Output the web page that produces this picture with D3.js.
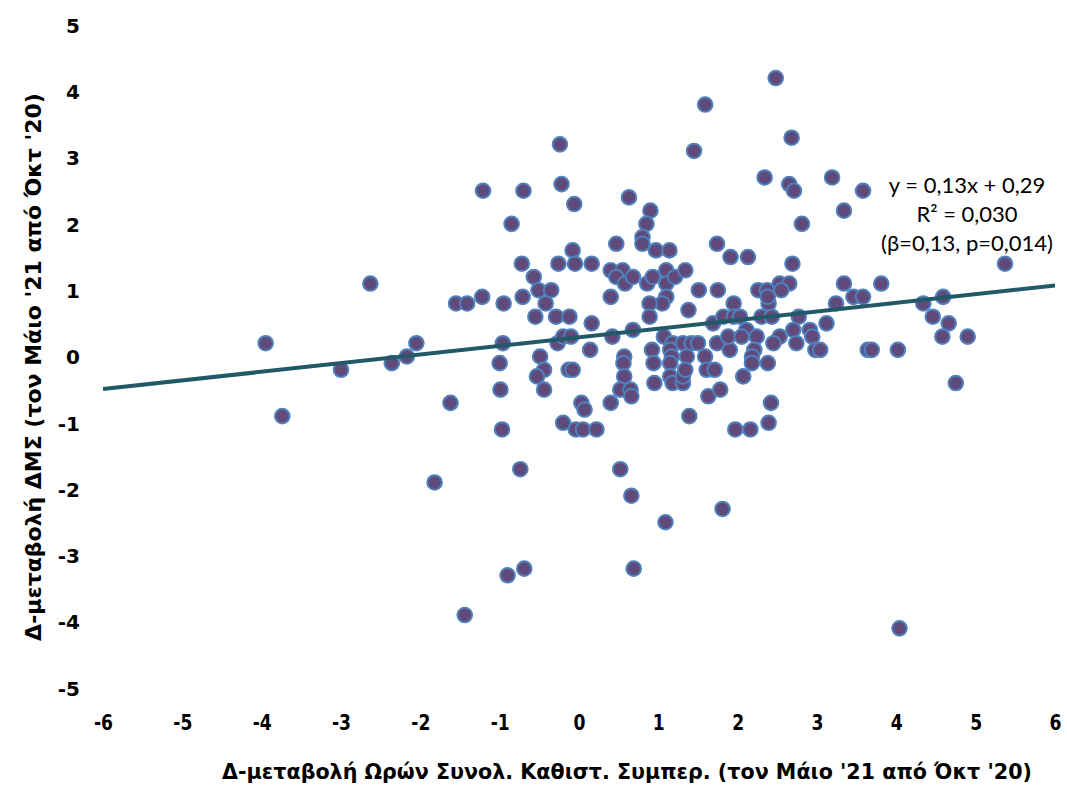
<!DOCTYPE html>
<html>
<head>
<meta charset="utf-8">
<script src="https://cdn.jsdelivr.net/npm/d3@7"></script>
<style>
  body { margin: 0; background: #fff; }
  svg { display: block; }
  .ytick text { font-family: "DejaVu Sans", Verdana, sans-serif; font-weight: bold; font-size: 20px; fill: #000; }
  .xtick text { font-family: "DejaVu Sans", sans-serif; font-weight: bold; font-size: 22px; fill: #000; }
  .title { font-family: "DejaVu Sans", sans-serif; font-weight: bold; font-size: 22px; fill: #000; }
  .note { font-family: Lato, "Open Sans", sans-serif; font-size: 22px; fill: #000; }
</style>
</head>
<body>
<svg id="chart"></svg>
<script>
// Data (x = change in hours, y = change in ΔΜΣ)
const xValues = [
  -3.95, -3.74, -3.0, -2.63, -2.36, -2.17, -2.05, -1.82, -1.62, -1.55,
  -1.41, -1.44, -1.22, -1.21, -0.97, -0.9, -0.69, -0.74, -0.70, -0.85,
  -0.72, -0.57, -0.51, -0.35, -0.71, -0.95, -0.42, -0.55, -0.29, -0.12,
  -0.96, -1.0, -0.99, -0.49, -0.44, -0.53, -0.44, -0.27, -0.2, -0.1,
  -0.13, -0.08, -0.2, 0.03, 0.07, -0.04, 0.05, 0.22, 0.14, 0.16,
  -0.24, -0.22, -0.06, -0.08, -0.26, -0.05, 0.16, 0.42, 0.68, 0.57,
  0.56, 0.57, 0.52, 0.65, 0.66, 0.40, 0.52, 0.66, 0.69, 1.09,
  1.81, 1.39, 1.97, 0.92, 1.07, 0.94, 0.95, 1.18, 1.31, 1.42,
  1.5, 1.15, 1.17, 1.15, 1.36, 1.59, 1.61, 1.71, 1.15, 1.18,
  1.31, 1.31, 1.34, 1.63, 1.78, 2.07, 1.9, 1.74, 1.88, 1.59,
  1.45, 0.63, 0.90, 0.85, 0.80, 0.80, 0.97, 1.14, 0.47, 1.74,
  1.91, 0.40, 0.40, 0.55, 0.47, 0.58, 0.68, 0.86, 0.93, 1.10,
  1.10, 1.21, 1.34, 1.10, 1.05, 0.89, 0.89, 1.51, 1.75, 1.38,
  1.69, 1.95, 1.82, 1.95, 2.03, 2.48, 2.68, 2.34, 3.19, 2.65,
  2.71, 3.58, 3.34, 2.81, 2.13, 2.69, 2.26, 2.37, 2.53, 2.65,
  2.55, 2.39, 2.38, 2.30, 2.43, 2.77, 2.11, 2.24, 2.05, 2.53,
  2.70, 2.91, 2.94, 2.74, 2.45, 2.21, 2.98, 3.04, 2.18, 2.18,
  2.38, 2.42, 2.16, 2.39, 3.34, 3.46, 3.58, 3.24, 3.81, 4.34,
  4.59, 4.46, 4.66, 4.58, 4.90, 4.75, 4.04, 5.37, 3.12, 3.64,
  3.69, 4.02
];
const yValues = [
  0.2, -0.9, -0.2, 1.1, -0.1, 0.0, 0.2, -1.9, -0.7, 0.8,
  0.8, -3.9, 0.9, 2.5, -1.1, -3.3, -3.2, -1.7, 2.5, 2.0,
  1.4, 1.2, 1.0, 1.0, 0.9, 0.8, 0.8, 0.6, 0.6, 0.6,
  0.2, -0.1, -0.5, 0.0, -0.2, -0.3, -0.5, 0.2, 0.3, 0.3,
  -0.2, -0.2, -1.0, -0.7, -0.8, -1.1, -1.1, -1.1, 0.1, 0.5,
  3.2, 2.6, 2.3, 1.6, 1.4, 1.4, 1.4, 0.3, 0.4, 0.0,
  -0.1, -0.3, -0.5, -0.5, -0.6, -0.7, -1.7, -2.1, -3.2, -2.5,
  -2.3, -0.9, -1.1, 0.1, 0.3, -0.1, -0.4, 0.2, 0.2, 0.2,
  0.2, 0.1, 0.0, -0.1, 0.0, 0.0, -0.2, -0.2, -0.3, -0.4,
  -0.4, -0.3, -0.2, -0.6, -0.5, -0.3, 0.1, 0.2, 0.3, 3.8,
  3.1, 2.4, 2.2, 2.0, 1.8, 1.7, 1.6, 1.6, 1.7, 1.7,
  1.5, 0.9, 1.3, 1.3, 1.2, 1.1, 1.2, 1.1, 1.2, 1.3,
  1.1, 1.2, 1.3, 0.9, 0.8, 0.8, 0.6, 1.0, 1.0, 0.7,
  0.5, 0.8, 0.6, 0.6, 0.6, 4.2, 3.3, 2.7, 2.7, 2.6,
  2.5, 2.5, 2.2, 2.0, 1.5, 1.4, 1.0, 1.0, 1.1, 1.1,
  1.0, 0.8, 0.9, 0.6, 0.6, 0.6, 0.4, 0.3, 0.3, 0.3,
  0.4, 0.4, 0.3, 0.2, 0.2, 0.1, 0.1, 0.1, 0.0, -0.1,
  -0.1, -0.7, -1.1, -1.0, 1.1, 0.9, 0.9, 0.8, 1.1, 0.8,
  0.9, 0.6, 0.5, 0.3, 0.3, -0.4, -4.1, 1.4, 0.5, 0.1,
  0.1, 0.1
];
const xTicks = [-6, -5, -4, -3, -2, -1, 0, 1, 2, 3, 4, 5, 6];
const yTicks = [-5, -4, -3, -2, -1, 0, 1, 2, 3, 4, 5];
const trendSlope = 0.13;
const trendIntercept = 0.29;
const noteLines = ["y = 0,13x + 0,29", "R² = 0,030", "(β=0,13, p=0,014)"];
const xTitle = "Δ-μεταβολή Ωρών Συνολ. Καθιστ. Συμπερ. (τον Μάιο '21 από Όκτ '20)";
const yTitle = "Δ-μεταβολή ΔΜΣ (τον Μάιο '21 από Όκτ '20)";

const points = xValues.map((x, i) => ({ x: x, y: yValues[i] }));

const width = 1067, height = 790;
const svg = d3.select("#chart").attr("width", width).attr("height", height);

// Scales
const x = d3.scaleLinear().domain([-6, 6]).range([103, 1055]);
const y = d3.scaleLinear().domain([-5, 5]).range([688, 25]);

// Y axis (labels only, hyphen minus like the original)
const yAxis = svg.append("g")
    .attr("class", "ytick")
    .attr("transform", "translate(80,0)")
    .call(d3.axisLeft(y).tickValues(yTicks).tickSize(0).tickPadding(0).tickFormat(d => String(d)));
yAxis.select(".domain").remove();
yAxis.selectAll("text").attr("dy", "0.36em");

// X axis (labels only, condensed)
const xAxis = svg.append("g")
    .attr("class", "xtick")
    .attr("transform", "translate(0,714)")
    .call(d3.axisBottom(x).tickValues(xTicks).tickSize(0).tickPadding(0).tickFormat(d => String(d)));
xAxis.select(".domain").remove();
xAxis.selectAll("text").attr("transform", "scale(0.78,1)");

// Points
svg.append("g")
    .selectAll("circle")
    .data(points)
    .enter().append("circle")
    .attr("cx", d => x(d.x))
    .attr("cy", d => y(d.y))
    .attr("r", 7.3)
    .attr("fill", "#604a7b")
    .attr("stroke", "#4f81bd")
    .attr("stroke-width", 2);

// Trend line
svg.append("line")
    .attr("x1", x(-6))
    .attr("y1", y(trendSlope * -6 + trendIntercept))
    .attr("x2", x(6))
    .attr("y2", y(trendSlope * 6 + trendIntercept))
    .attr("stroke", "#215968")
    .attr("stroke-width", 4);

// Regression note
svg.append("g")
    .selectAll("text")
    .data(noteLines)
    .enter().append("text")
    .attr("class", "note")
    .attr("x", 967)
    .attr("y", (d, i) => 193 + i * 29)
    .attr("text-anchor", "middle")
    .text(d => d);

// Axis titles, squeezed horizontally to the width of the original
function condensedTitle(text, cx, cy, targetLen, rotate) {
    const g = svg.append("g").attr("transform", `translate(${cx},${cy})` + (rotate ? " rotate(-90)" : ""));
    const t = g.append("text")
        .attr("class", "title")
        .attr("text-anchor", "middle")
        .text(text);
    const k = targetLen / t.node().getComputedTextLength();
    t.attr("transform", `scale(${k},1)`);
}
condensedTitle(xTitle, 627, 779, 810, false);
condensedTitle(yTitle, 41, 367, 548, true);
</script>
</body>
</html>
